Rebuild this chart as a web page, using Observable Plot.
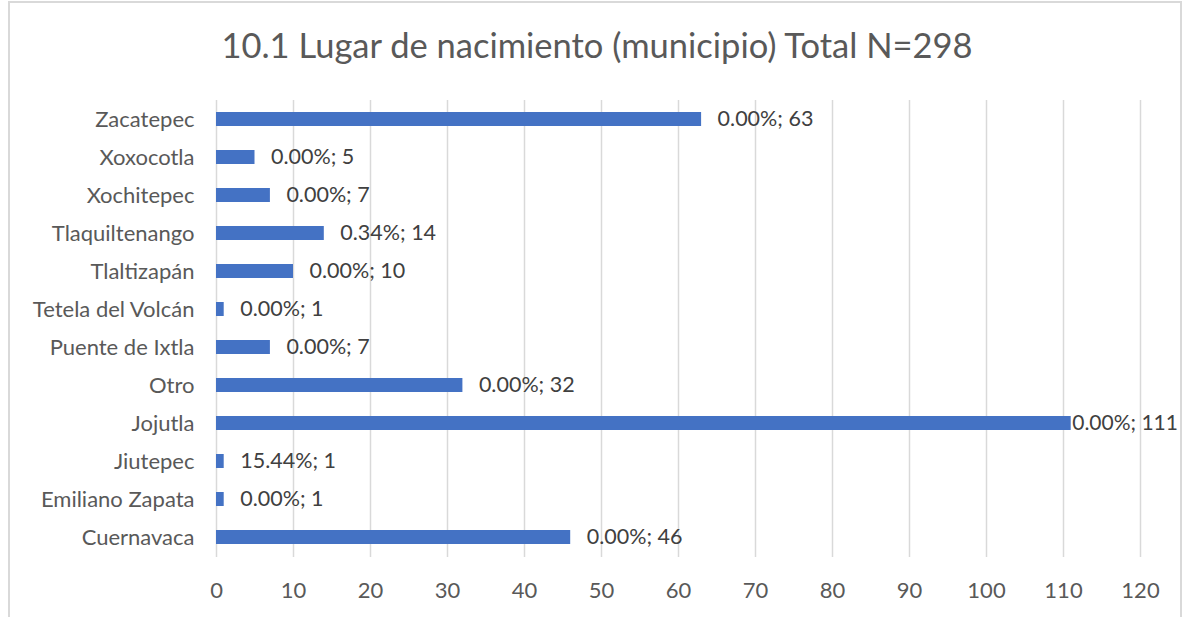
<!DOCTYPE html>
<html>
<head>
<meta charset="utf-8">
<script src="https://cdn.jsdelivr.net/npm/d3@7"></script>
<script src="https://cdn.jsdelivr.net/npm/@observablehq/plot@0.6"></script>
<style>
  html, body { margin: 0; padding: 0; background: #fff; }
  #frame {
    position: absolute; left: 8px; top: 1px; width: 1174px; height: 640px;
    border: 2px solid #d9d9d9; box-sizing: border-box;
  }
  #title {
    position: absolute; left: 0; top: 24px; width: 1194px; text-align: center;
    font-family: Lato, "Open Sans", sans-serif; font-size: 34.5px; color: #595959;
  }
  #chart { position: absolute; left: 0; top: 80px; }
</style>
</head>
<body>
<div id="frame"></div>
<div id="title">10.1 Lugar de nacimiento (municipio) Total N=298</div>
<div id="chart"></div>
<script>
const municipios = ["Zacatepec", "Xoxocotla", "Xochitepec", "Tlaquiltenango", "Tlaltizapán", "Tetela del Volcán", "Puente de Ixtla", "Otro", "Jojutla", "Jiutepec", "Emiliano Zapata", "Cuernavaca"];
const cantidades = [63, 5, 7, 14, 10, 1, 7, 32, 111, 1, 1, 46];
const porcentajes = [0.00, 0.00, 0.00, 0.34, 0.00, 0.00, 0.00, 0.00, 0.00, 15.44, 0.00, 0.00];
const xTicks = [0, 10, 20, 30, 40, 50, 60, 70, 80, 90, 100, 110, 120];

const data = municipios.map((m, i) => ({
  municipio: m,
  n: cantidades[i],
  label: porcentajes[i].toFixed(2) + "%; " + cantidades[i]
}));

const font = "Lato, 'Open Sans', sans-serif";
const chart = Plot.plot({
  width: 1182,
  height: 527,
  marginTop: 20,
  marginBottom: 50,
  marginLeft: 216,
  marginRight: 42,
  style: { fontFamily: font, fontSize: "22px", color: "#595959", background: "transparent" },
  x: { domain: [0, 120], ticks: xTicks, tickSize: 0, tickPadding: 25, label: null },
  y: { domain: municipios, paddingInner: 0.63, paddingOuter: 0.315, tickSize: 0, tickPadding: 22, label: null },
  marks: [
    Plot.gridX(xTicks, { stroke: "#d9d9d9", strokeWidth: 1.5, strokeOpacity: 1 }),
    Plot.barX(data, { x: "n", y: "municipio", fill: "#4472C4" }),
    Plot.text(data.filter(d => d.n < 100), { x: "n", y: "municipio", text: "label", textAnchor: "start", dx: 16, fill: "#404040", fontSize: 21.5 }),
    Plot.text(data.filter(d => d.n >= 100), { x: "n", y: "municipio", text: "label", textAnchor: "start", dx: 1, fill: "#404040", fontSize: 21 })
  ]
});
document.getElementById("chart").appendChild(chart);
</script>
</body>
</html>
